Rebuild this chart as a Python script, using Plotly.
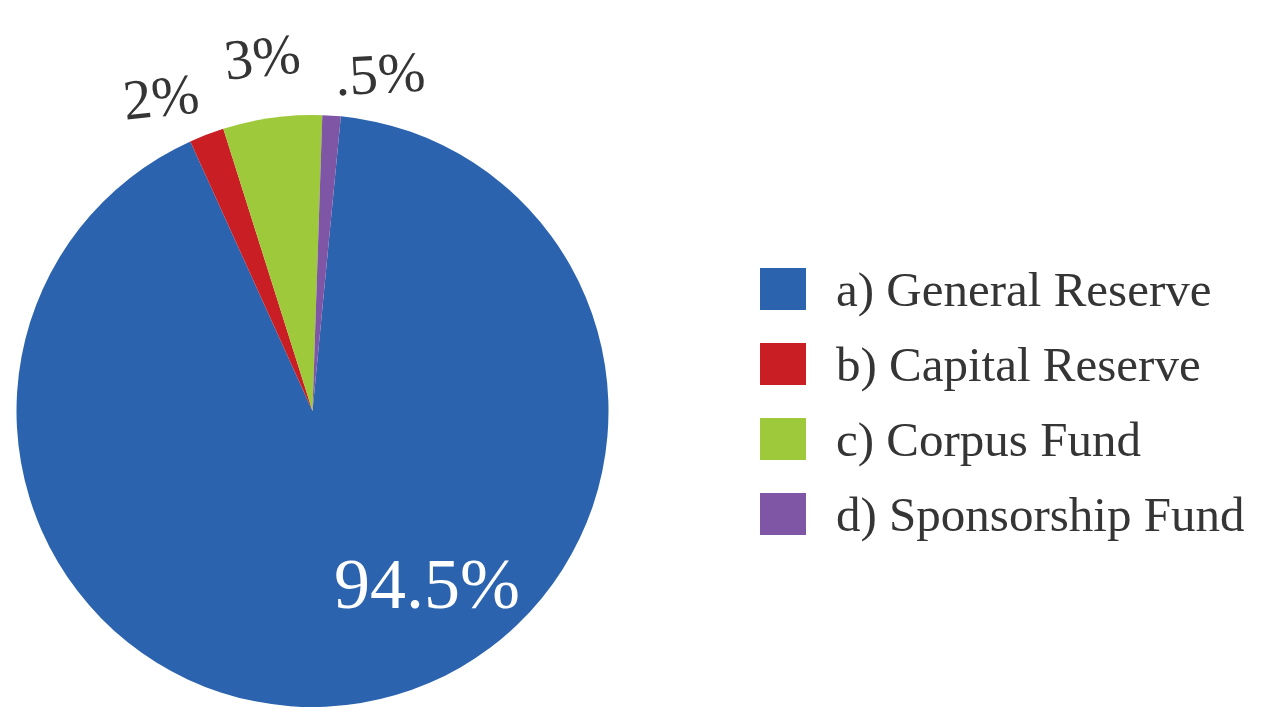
import plotly.graph_objects as go

W, H = 1271, 708

categories = ["a) General Reserve", "b) Capital Reserve", "c) Corpus Fund", "d) Sponsorship Fund"]
# slice sizes as drawn in the picture; printed labels kept separately
values = [91.7, 1.9, 5.4, 1.0]
pct_labels = ["94.5%", "2%", "3%", ".5%"]
colors = ["#2B63AE", "#C81E24", "#9DC93A", "#7F55A5"]

TEXT = "#353535"
SERIF = "Liberation Serif, DejaVu Serif, serif"


def px(x, y):
    return x / W, 1 - y / H


fig = go.Figure(go.Pie(
    labels=categories, values=values,
    marker=dict(colors=colors, line=dict(width=0)),
    sort=False, direction="clockwise", rotation=5.5,
    textinfo="none", hoverinfo="label+percent",
    domain=dict(x=[13 / W, 612 / W], y=[1 - 707 / H, 1 - 115 / H]),
    showlegend=False,
))

# percentage labels
label_spots = [(427, 584, "white", 72, 0), (161, 97, TEXT, 57, -6),
               (262, 56, TEXT, 57, -6), (380, 74, TEXT, 57, -3)]
for txt, (x, y, col, size, ang) in zip(pct_labels, label_spots):
    ax, ay = px(x, y)
    fig.add_annotation(x=ax, y=ay, xref="paper", yref="paper", text=txt,
                       showarrow=False, xanchor="center", yanchor="middle", textangle=ang,
                       font=dict(family=SERIF, size=size, color=col))

# hand-built legend with large colour swatches
for i, (name, col) in enumerate(zip(categories, colors)):
    top = 268 + i * 75
    x0, y1 = px(760, top)
    x1, y0 = px(806, top + 42)
    fig.add_shape(type="rect", xref="paper", yref="paper", x0=x0, x1=x1, y0=y0, y1=y1,
                  fillcolor=col, line=dict(width=0))
    tx, ty = px(834, top + 21)
    fig.add_annotation(x=tx, y=ty, xref="paper", yref="paper", text=name,
                       showarrow=False, xanchor="left", yanchor="middle",
                       font=dict(family=SERIF, size=49, color=TEXT))

fig.update_layout(
    width=W, height=H,
    margin=dict(l=0, r=0, t=0, b=0),
    paper_bgcolor="white", plot_bgcolor="white",
)

# drop the default page margin so the figure fills the window exactly
fig.write_html("out.html", config={"displayModeBar": False},
               post_script="document.body.style.margin='0';")
